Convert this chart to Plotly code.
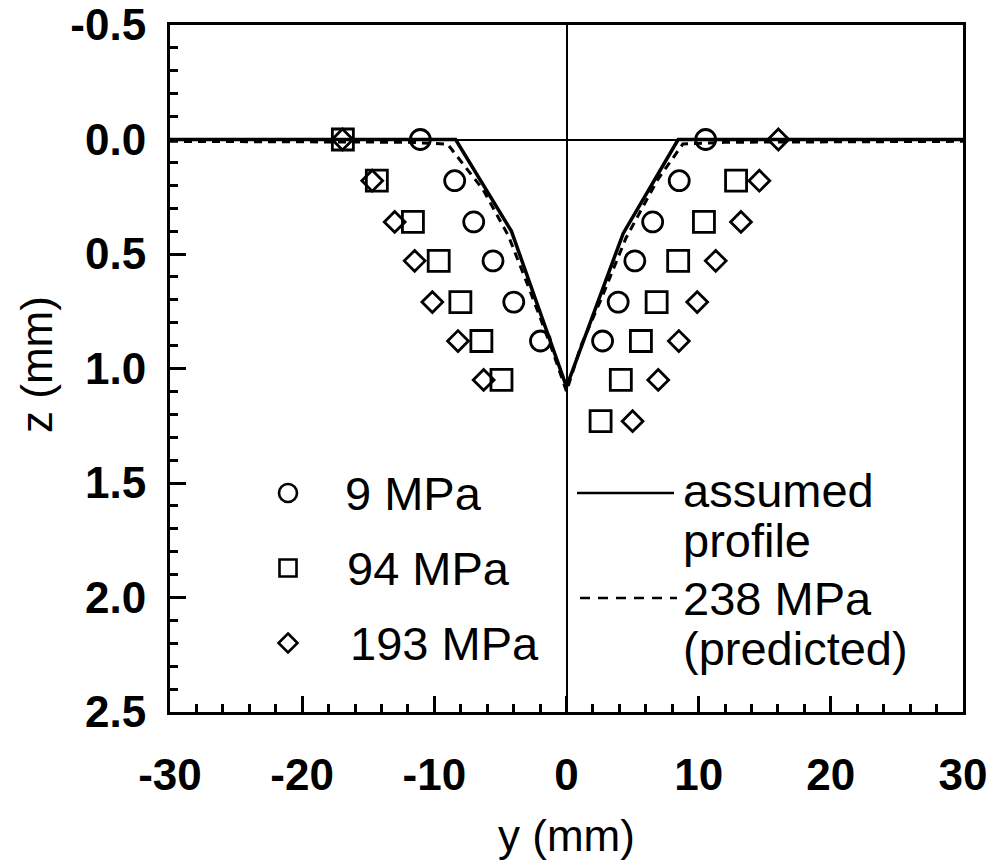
import plotly.graph_objects as go

# Measured surface profile points: y position (mm) and depth z (mm)
y_9mpa = [-11.06, -8.46, -7.02, -5.56, -3.99, -1.97,
          10.53, 8.53, 6.52, 5.17, 3.91, 2.73]
z_9mpa = [0.0, 0.18, 0.36, 0.53, 0.71, 0.88,
          0.0, 0.18, 0.36, 0.53, 0.71, 0.88]

y_94mpa = [-16.92, -14.35, -11.62, -9.67, -8.03, -6.44, -4.92,
           12.83, 10.40, 8.45, 6.82, 5.63, 4.11, 2.58]
z_94mpa = [0.0, 0.18, 0.36, 0.53, 0.71, 0.88, 1.05,
           0.18, 0.36, 0.53, 0.71, 0.88, 1.05, 1.23]

y_193mpa = [-16.95, -14.70, -13.00, -11.49, -10.15, -8.21, -6.27,
            16.03, 14.59, 13.20, 11.29, 9.89, 8.50, 6.94, 5.00]
z_193mpa = [0.0, 0.18, 0.36, 0.53, 0.71, 0.88, 1.05,
            0.0, 0.18, 0.36, 0.53, 0.71, 0.88, 1.05, 1.23]

# Assumed groove profile
y_assumed = [-30, -8.39, -4.17, 0.0, 4.29, 8.45, 30]
z_assumed = [0.0, 0.0, 0.40, 1.08, 0.41, 0.0, 0.0]

# Predicted profile at 238 MPa
y_pred = [-30, -12, -9.0, -6.3, -4.4, -2.7, -1.2, 0.0, 1.1, 2.6, 4.5, 6.9, 8.8, 12, 30]
z_pred = [0.008, 0.012, 0.02, 0.22, 0.42, 0.67, 0.90, 1.10, 0.90, 0.70, 0.43, 0.175, 0.02, 0.012, 0.008]

x_tickvals = [-30, -20, -10, 0, 10, 20, 30]
x_ticktext = ["-30", "-20", "-10", "0", "10", "20", "30"]
z_tickvals = [-0.5, 0.0, 0.5, 1.0, 1.5, 2.0, 2.5]
z_ticktext = ["-0.5", "0.0", "0.5", "1.0", "1.5", "2.0", "2.5"]

FONT = "Liberation Sans, Arial, Helvetica, sans-serif"
W, H = 997, 866
L, R, T, B = 170, 963, 25, 712


def px(xp):
    return (xp - L) / (R - L)


def py(yp):
    return (B - yp) / (B - T)


fig = go.Figure()

fig.add_trace(go.Scatter(x=y_assumed, y=z_assumed, mode="lines",
                         line=dict(color="black", width=3.5), showlegend=False))
fig.add_trace(go.Scatter(x=y_pred, y=z_pred, mode="lines",
                         line=dict(color="black", width=3, dash="8px,6px"), showlegend=False))

mk_line = dict(color="black", width=2.8)
fig.add_trace(go.Scatter(x=y_9mpa, y=z_9mpa, mode="markers",
                         marker=dict(symbol="circle-open", size=20, color="black", line=mk_line),
                         showlegend=False))
fig.add_trace(go.Scatter(x=y_94mpa, y=z_94mpa, mode="markers",
                         marker=dict(symbol="square-open", size=21, color="black", line=mk_line),
                         showlegend=False))
fig.add_trace(go.Scatter(x=y_193mpa, y=z_193mpa, mode="markers",
                         marker=dict(symbol="diamond-open", size=16, color="black", line=mk_line),
                         showlegend=False))

shapes = []
# legend keys: markers
cx = 288
r = 9
shapes.append(dict(type="circle", xref="paper", yref="paper",
                   x0=px(cx - r), x1=px(cx + r), y0=py(493 + r), y1=py(493 - r),
                   line=dict(color="black", width=2.6)))
s = 8.5
shapes.append(dict(type="rect", xref="paper", yref="paper",
                   x0=px(cx - s), x1=px(cx + s), y0=py(568 + s), y1=py(568 - s),
                   line=dict(color="black", width=2.6)))
d = 9.5
dy = 643
path = (f"M {px(cx)},{py(dy - d)} L {px(cx + d)},{py(dy)} "
        f"L {px(cx)},{py(dy + d)} L {px(cx - d)},{py(dy)} Z")
shapes.append(dict(type="path", xref="paper", yref="paper", path=path,
                   line=dict(color="black", width=2.6)))
# legend keys: lines
shapes.append(dict(type="line", xref="paper", yref="paper",
                   x0=px(577), x1=px(674), y0=py(493), y1=py(493),
                   line=dict(color="black", width=2.5)))
shapes.append(dict(type="line", xref="paper", yref="paper",
                   x0=px(580), x1=px(677), y0=py(598), y1=py(598),
                   line=dict(color="black", width=2.5, dash="10px,8px")))

annotations = []


def text_at(x, y, t, size=47, anchor="left", angle=0, weight="normal"):
    annotations.append(dict(text=t, xref="paper", yref="paper", x=px(x), y=py(y),
                            xanchor=anchor, yanchor="middle", showarrow=False,
                            textangle=angle,
                            font=dict(family=FONT, size=size, color="black", weight=weight)))


text_at(343, 493, "9 MPa")
text_at(345, 568, "94 MPa")
text_at(348, 643, "193 MPa")
text_at(681, 490, "assumed")
text_at(681, 540, "profile")
text_at(681, 598, "238 MPa")
text_at(681, 648, "(predicted)")
text_at(566, 835, "y (mm)", size=44, anchor="center")
text_at(36, 365, "z (mm)", size=44, anchor="center", angle=-90)

tick_font = dict(family=FONT, size=44, color="black", weight="bold")

fig.update_layout(
    width=W, height=H,
    margin=dict(l=L, r=W - R, t=T, b=H - B, autoexpand=False),
    paper_bgcolor="white", plot_bgcolor="white",
    shapes=shapes, annotations=annotations,
    xaxis=dict(range=[-30, 30], tickmode="array", tickvals=x_tickvals, ticktext=x_ticktext,
               ticks="inside", ticklen=16, tickwidth=2.5, tickcolor="black",
               minor=dict(dtick=2, ticks="inside", ticklen=8, tickwidth=2.5, tickcolor="black"),
               showline=True, linewidth=3, linecolor="black", mirror=True,
               showgrid=False, zeroline=True, zerolinewidth=1.6, zerolinecolor="black",
               tickfont=tick_font, ticklabelstandoff=22, ticklabeloverflow="allow"),
    yaxis=dict(range=[2.5, -0.5], tickmode="array", tickvals=z_tickvals, ticktext=z_ticktext,
               ticks="inside", ticklen=16, tickwidth=2.5, tickcolor="black",
               minor=dict(dtick=0.1, tick0=0, ticks="inside", ticklen=8, tickwidth=2.5,
                          tickcolor="black"),
               showline=True, linewidth=3, linecolor="black", mirror=True,
               showgrid=False, zeroline=True, zerolinewidth=1.6, zerolinecolor="black",
               tickfont=tick_font, ticklabelstandoff=12, ticklabeloverflow="allow"),
)

fig.write_html("out.html")
